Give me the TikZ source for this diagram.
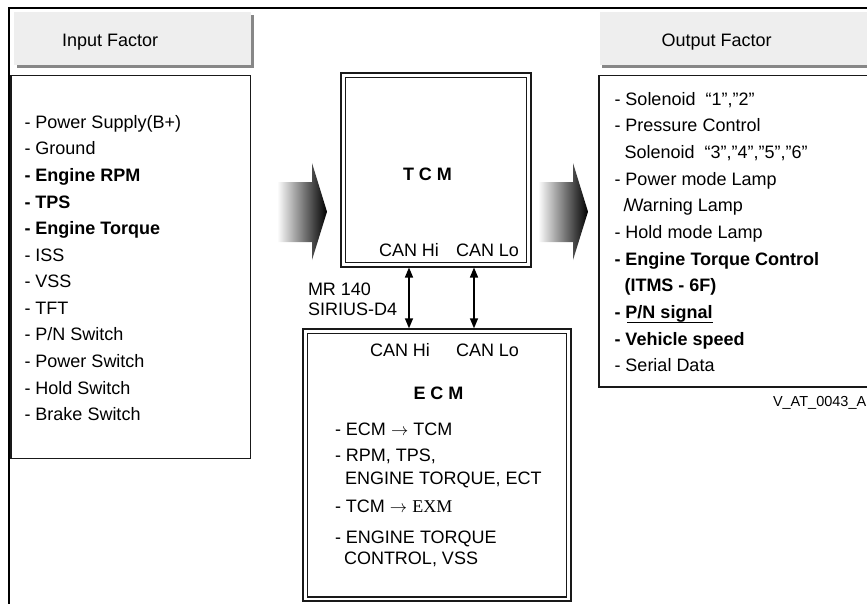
\documentclass[tikz,border=0pt]{standalone}
\usepackage{fontspec}
\setmainfont{Liberation Sans}
\newfontfamily\exmfont{Liberation Serif}
\usetikzlibrary{arrows.meta}
\definecolor{hdrgray}{RGB}{238,238,238}
\definecolor{shadowgray}{RGB}{135,135,135}
\definecolor{boxline}{RGB}{25,25,25}
\begin{document}
\begin{tikzpicture}[x=1pt,y=-1pt,
  txt/.style={anchor=base west, inner sep=0pt, outer sep=0pt, font=\fontsize{18}{21}\selectfont},
  btxt/.style={txt, font=\fontsize{18}{21}\selectfont\bfseries},
  hdrbox/.style={fill=hdrgray, draw=none, inner sep=0pt},
  listbox/.style={draw=boxline, line width=1.3pt, inner sep=0pt},
  modbox/.style={draw=boxline, line width=2pt, inner sep=0pt},
  innerline/.style={draw=boxline, line width=1.2pt},
  bigarrow/.style={left color=white, right color=black},
  can/.style={{Triangle[length=10pt,width=8pt]}-{Triangle[length=10pt,width=8pt]}, line width=1.4pt}]
\useasboundingbox (0,0) rectangle (867,603);
% outer frame
\draw[line width=2.3pt] (9,604) -- (9,8) -- (868,8);
% headers
\fill[shadowgray] (16.5,15) rectangle (254,68);
\node[hdrbox, minimum width=236.7pt, minimum height=53.3pt] (inhdr) at (132.35,38.35) {};
\node[txt] (intitle) at (62,46.7) {Input Factor};
\fill[shadowgray] (602,15) rectangle (880,68);
\node[hdrbox, minimum width=280pt, minimum height=53.3pt] (outhdr) at (740,38.35) {};
\node[txt] (outtitle) at (661.7,46.7) {Output Factor};
% list boxes
\node[listbox, minimum width=239.7pt, minimum height=382.6pt] (inbox) at (130.85,267) {};
\node[listbox, minimum width=281pt, minimum height=311.5pt] (outbox) at (739.5,231.25) {};
% input items
\node[txt]  (i0)  at (24.5,128.3) {- Power Supply(B+)};
\node[txt]  (i1)  at (24.5,154.9) {- Ground};
\node[btxt] (i2)  at (24.5,181.5) {- Engine RPM};
\node[btxt] (i3)  at (24.5,208.0) {- TPS};
\node[btxt] (i4)  at (24.5,234.6) {- Engine Torque};
\node[txt]  (i5)  at (24.5,261.2) {- ISS};
\node[txt]  (i6)  at (24.5,287.8) {- VSS};
\node[txt]  (i7)  at (24.5,314.4) {- TFT};
\node[txt]  (i8)  at (24.5,340.9) {- P/N Switch};
\node[txt]  (i9)  at (24.5,367.5) {- Power Switch};
\node[txt]  (i10) at (24.5,394.1) {- Hold Switch};
\node[txt]  (i11) at (24.5,420.7) {- Brake Switch};
% output items
\node[txt]  (o0)  at (614.5,105)   {- Solenoid\ \ “1”,”2”};
\node[txt]  (o1)  at (614.5,131.7) {- Pressure Control};
\node[txt]  (o2)  at (624.5,158.3) {Solenoid\ \ “3”,”4”,”5”,”6”};
\node[txt]  (o3)  at (614.5,185)   {- Power mode Lamp};
\node[txt]  (o4)  at (623.5,211.7) {/\kern-2pt Warning Lamp};
\node[txt]  (o5)  at (614.5,238.3) {- Hold mode Lamp};
\node[btxt] (o6)  at (614.5,265)   {- Engine Torque Control};
\node[btxt] (o7)  at (624.5,291.7) {(ITMS - 6F)};
\node[btxt] (o8)  at (614.5,318.3) {- P/N signal};
\draw[line width=1pt] ([xshift=12.5pt, yshift=-3.7pt]o8.base west) -- ([xshift=0.5pt, yshift=-3.7pt]o8.base east);
\node[btxt] (o9)  at (614.5,345)   {- Vehicle speed};
\node[txt]  (o10) at (614.5,371.7) {- Serial Data};
\node[txt, font=\fontsize{14.5}{16}\selectfont] (code) at (773,406.7) {V\_AT\_0043\_A};
% big arrows
\shade[bigarrow] (277,182) -- (312,182) -- (312,163) -- (327,211.7) -- (312,260) -- (312,242) -- (277,242) -- cycle;
\shade[bigarrow] (538,182) -- (573,182) -- (573,163) -- (588,211.7) -- (573,260) -- (573,242) -- (538,242) -- cycle;
% TCM
\node[modbox, minimum width=189.7pt, minimum height=193.5pt] (tcm) at (435.85,169.75) {};
\draw[innerline] (345.5,77.5) rectangle (526.5,262.5);
\node[btxt, anchor=base] (tcmname) at (427.5,180) {T C M};
\node[txt] (tcmhi) at (379,256.7) {CAN Hi};
\node[txt] (tcmlo) at (456,256.7) {CAN Lo};
% ECM
\node[modbox, minimum width=267.5pt, minimum height=271.7pt] (ecm) at (436.75,465.15) {};
\draw[innerline] (307.3,333.5) rectangle (566.3,597);
\node[txt] (ecmhi) at (370,356.7) {CAN Hi};
\node[txt] (ecmlo) at (456,356.7) {CAN Lo};
\node[btxt, anchor=base] (ecmname) at (438.5,399) {E C M};
\node[txt] (e1) at (335,435)   {- ECM $\rightarrow$ TCM};
\node[txt] (e2) at (335,461.7) {- RPM, TPS,};
\node[txt] (e3) at (345,484)   {ENGINE TORQUE, ECT};
\node[txt] (e4) at (335,512.7) {- TCM $\rightarrow$ {\exmfont EXM}};
\node[txt] (e5) at (335,543)   {- ENGINE TORQUE};
\node[txt] (e6) at (344,564)   {CONTROL, VSS};
% bus label
\node[txt] (mr)  at (308,295) {MR 140};
\node[txt] (sir) at (308,315) {SIRIUS-D4};
% CAN connectors
\coordinate (hi) at (409,300);
\coordinate (lo) at (474,300);
\draw[can] (hi |- ecm.north) -- (hi |- tcm.south);
\draw[can] (lo |- ecm.north) -- (lo |- tcm.south);
\end{tikzpicture}
\end{document}
